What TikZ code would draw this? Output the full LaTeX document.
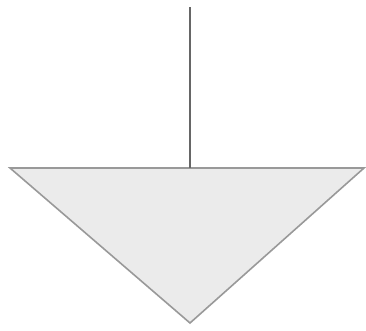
\documentclass[tikz,border=0pt]{standalone}
\usepackage{tikz}

\begin{document}
\begin{tikzpicture}[
  x=1pt, y=-1pt,
  wedge/.style={draw=black!40, fill=black!8, line width=1.6pt, line join=miter},
  stem/.style={draw=black!60, line width=1.6pt}
]
\useasboundingbox (0,0) rectangle (366,330);
\coordinate (top) at (190,7);
\coordinate (base) at (190,168);
\draw[wedge] (10,168) -- (364,168) -- (190,323) -- cycle;
\draw[stem] (top) -- (base);
\end{tikzpicture}
\end{document}
